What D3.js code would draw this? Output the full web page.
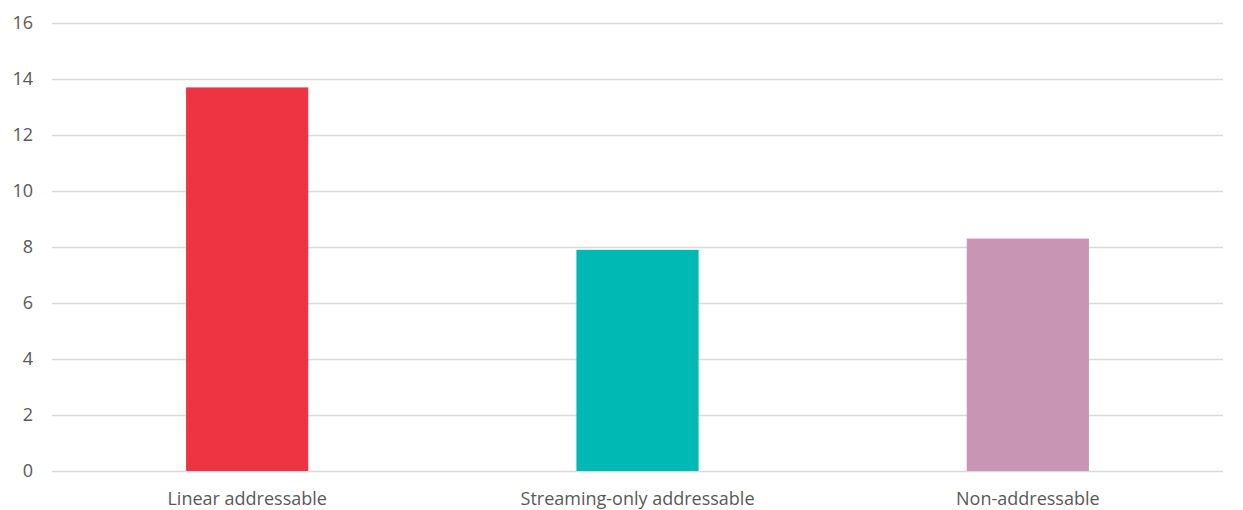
<!DOCTYPE html>
<html>
<head>
<meta charset="utf-8">
<script src="https://cdn.jsdelivr.net/npm/d3@7"></script>
<style>
  html, body { margin: 0; padding: 0; background: #fff; }
  svg text { font-family: "Open Sans", "Noto Sans", sans-serif; fill: #595959; }
</style>
</head>
<body>
<svg id="chart" width="1243" height="510"></svg>
<script>
// Audience categories and their values
const categories = ["Linear addressable", "Streaming-only addressable", "Non-addressable"];
const values = [13.7, 7.9, 8.3];
const barColors = ["#EE3342", "#00B9B4", "#C896B4"];
const yTicks = [0, 2, 4, 6, 8, 10, 12, 14, 16];

const svg = d3.select("#chart");
const margin = { top: 23, right: 20, bottom: 39, left: 52 };
const width = 1243 - margin.left - margin.right;
const height = 510 - margin.top - margin.bottom;

const g = svg.append("g").attr("transform", `translate(${margin.left},${margin.top})`);

const x = d3.scaleBand().domain(categories).range([0, width]).paddingInner(0.687).paddingOuter(0.3435);
const y = d3.scaleLinear().domain([0, 16]).range([height, 0]);

// Horizontal gridlines with value labels
const yAxis = g.append("g")
  .call(d3.axisLeft(y).tickValues(yTicks).tickSize(-width).tickPadding(19).tickFormat(d3.format("d")));
yAxis.select(".domain").remove();
yAxis.selectAll(".tick line").attr("stroke", "#D9D9D9").attr("stroke-width", 1.3);
yAxis.selectAll(".tick text").style("font-size", "18px").attr("fill", "#595959");

// Bars
g.selectAll("rect.bar")
  .data(categories)
  .join("rect")
  .attr("class", "bar")
  .attr("x", d => x(d))
  .attr("width", x.bandwidth())
  .attr("y", (d, i) => y(values[i]))
  .attr("height", (d, i) => y(0) - y(values[i]))
  .attr("fill", (d, i) => barColors[i]);

// Category labels
const xAxis = g.append("g")
  .attr("transform", `translate(0,${height})`)
  .call(d3.axisBottom(x).tickSize(0).tickPadding(21));
xAxis.select(".domain").remove();
xAxis.selectAll(".tick text").style("font-size", "18px").attr("fill", "#595959");
</script>
</body>
</html>
